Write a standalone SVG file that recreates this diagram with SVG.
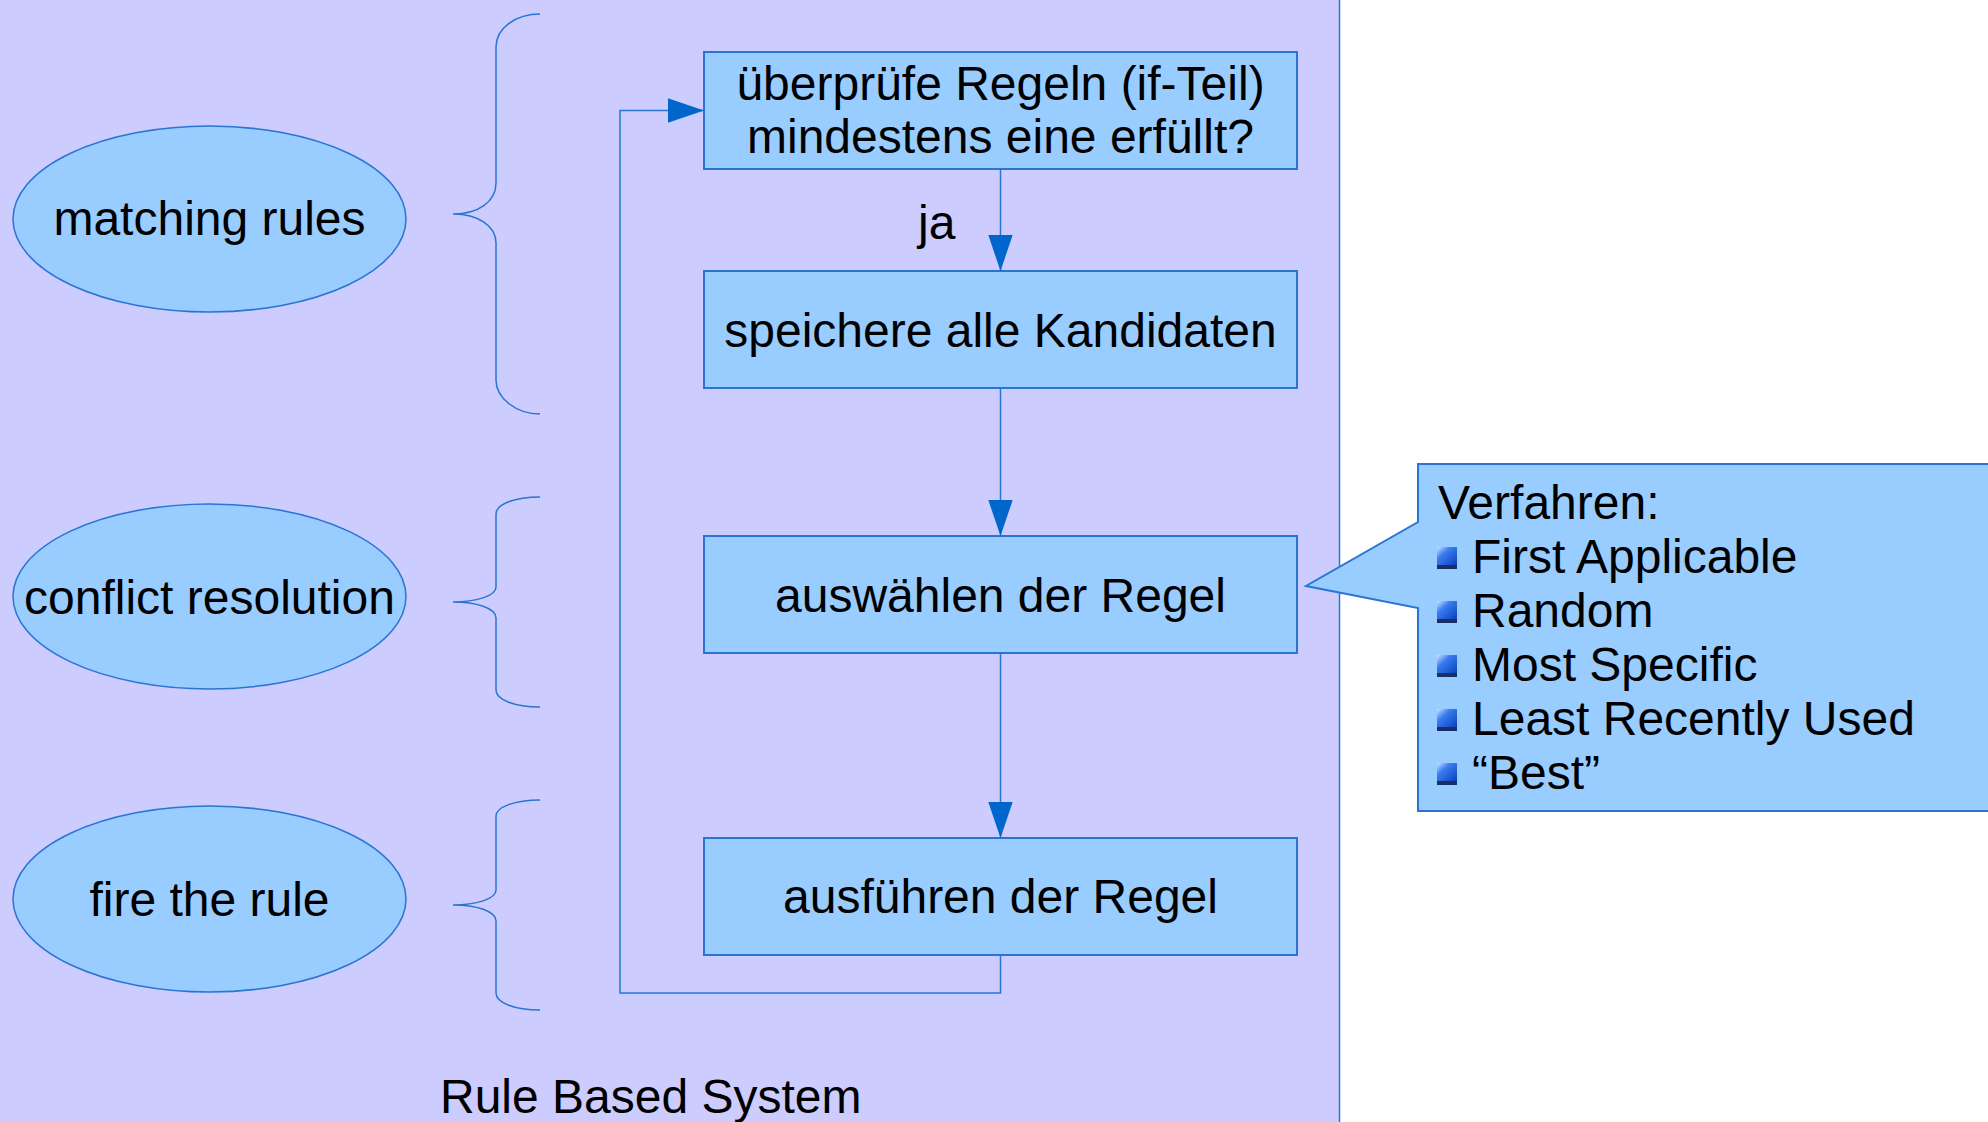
<svg xmlns="http://www.w3.org/2000/svg" width="1988" height="1122" viewBox="0 0 1988 1122">
<style>
text{font-family:"Liberation Sans",Arial,sans-serif;font-size:48px;fill:#000}
.c{text-anchor:middle}
.box{fill:#99CCFF;stroke:#2a74d4;stroke-width:2}
.ell{fill:#99CCFF;stroke:#2a74d4;stroke-width:1.5}
.br{fill:none;stroke:#2a74d4;stroke-width:1.5}
.ln{fill:none;stroke:#2a74d4;stroke-width:1.5}
</style>
<defs>
<marker id="ah" markerUnits="userSpaceOnUse" markerWidth="36" markerHeight="25" refX="34" refY="11.5" orient="auto" viewBox="0 0 34 23">
<path d="M0,0 L34,11.5 L0,23 z" fill="#0066CC"/>
</marker>
<linearGradient id="bg" x1="0" y1="0" x2="1" y2="1">
<stop offset="0" stop-color="#cfe3ff"/>
<stop offset="0.35" stop-color="#3a7ef0"/>
<stop offset="1" stop-color="#0a3fc0"/>
</linearGradient>
<g id="bullet">
<rect x="0" y="0" width="20" height="22" fill="#1a2f66"/>
<rect x="0" y="0" width="20" height="18" fill="url(#bg)"/>
</g>
</defs>
<g id="background">
<rect x="-2" y="-2" width="1341.5" height="1126" fill="#CCCCFF" stroke="#2a74d4" stroke-width="1.5"/>
</g>
<g id="phase-matching">
<ellipse class="ell" cx="209.5" cy="219" rx="196.5" ry="93"/>
<text class="c" x="209.5" y="235">matching rules</text>
</g>
<g id="phase-conflict">
<ellipse class="ell" cx="209.5" cy="596.5" rx="196.5" ry="92.5"/>
<text class="c" x="209.5" y="614">conflict resolution</text>
</g>
<g id="phase-fire">
<ellipse class="ell" cx="209.5" cy="899" rx="196.5" ry="93"/>
<text class="c" x="209.5" y="916">fire the rule</text>
</g>
<g id="braces">
<path class="br" d="M540,14 C516,14 496,28 496,47 V183 C496,202 478,214 453,214 C478,214 496,226 496,243 V380 C496,398 516,414 540,414"/>
<path class="br" d="M540,497 C515,497 496,504 496,514 V587 C496,596 476,602 453,602 C476,602 496,608 496,618 V690 C496,700 515,707 540,707"/>
<path class="br" d="M540,800 C515,800 496,807 496,816 V890 C496,899 476,905 453,905 C476,905 496,911 496,921 V993 C496,1003 515,1010 540,1010"/>
</g>
<g id="box-check">
<rect class="box" x="704" y="52" width="593" height="117"/>
<text class="c" x="1000.5" y="100">überprüfe Regeln (if-Teil)</text>
<text class="c" x="1000.5" y="153">mindestens eine erfüllt?</text>
</g>
<g id="box-store">
<rect class="box" x="704" y="271" width="593" height="117"/>
<text class="c" x="1000.5" y="347">speichere alle Kandidaten</text>
</g>
<g id="box-select">
<rect class="box" x="704" y="536" width="593" height="117"/>
<text class="c" x="1000.5" y="612">auswählen der Regel</text>
</g>
<g id="box-fire">
<rect class="box" x="704" y="838" width="593" height="117"/>
<text class="c" x="1000.5" y="913">ausführen der Regel</text>
</g>
<g id="connectors">
<path class="ln" d="M1000.5,169 V271" marker-end="url(#ah)"/>
<path class="ln" d="M1000.5,388 V536" marker-end="url(#ah)"/>
<path class="ln" d="M1000.5,653 V838" marker-end="url(#ah)"/>
<path class="ln" d="M1000.5,955 V993 H620 V110.5 H704" marker-end="url(#ah)"/>
<text x="918" y="239">ja</text>
</g>
<g id="callout">
<path d="M1418,464 H1995 V811 H1418 V608 L1306,586 L1418,522 Z" fill="#99CCFF" stroke="#2a74d4" stroke-width="2"/>
<text x="1438" y="519">Verfahren:</text>
<use href="#bullet" x="1437" y="547"/>
<text x="1472" y="573">First Applicable</text>
<use href="#bullet" x="1437" y="601"/>
<text x="1472" y="627">Random</text>
<use href="#bullet" x="1437" y="655"/>
<text x="1472" y="681">Most Specific</text>
<use href="#bullet" x="1437" y="709"/>
<text x="1472" y="735">Least Recently Used</text>
<use href="#bullet" x="1437" y="763"/>
<text x="1472" y="789">“Best”</text>
</g>
<g id="title">
<text x="440" y="1113">Rule Based System</text>
</g>
</svg>
